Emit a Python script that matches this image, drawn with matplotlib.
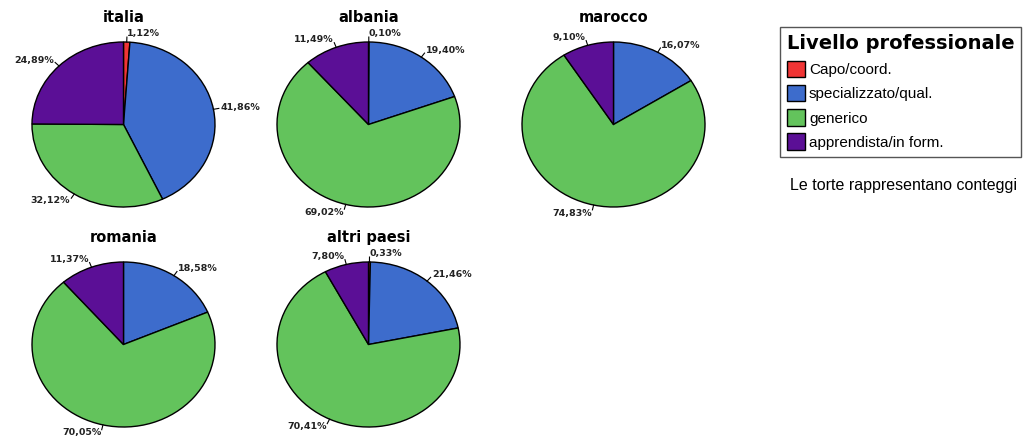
import matplotlib.pyplot as plt
import numpy as np
from matplotlib.patches import Patch

categories = ['Capo/coord.', 'specializzato/qual.', 'generico', 'apprendista/in form.']
colors = ['#f03535', '#3d6ccc', '#63c35c', '#5b0f96']

countries = ['italia', 'albania', 'marocco', 'romania', 'altri paesi']
italia = [1.12, 41.86, 32.12, 24.89]
albania = [0.10, 19.40, 69.02, 11.49]
marocco = [0.0, 16.07, 74.83, 9.10]
romania = [0.0, 18.58, 70.05, 11.37]
altri_paesi = [0.33, 21.46, 70.41, 7.80]
values = [italia, albania, marocco, romania, altri_paesi]

W, H = 1031, 436
fig = plt.figure(figsize=(W / 100, H / 100), dpi=100)

# pie bounding boxes in pixels (left, top); SPSS draws them as ellipses
boxes = [(32, 42), (277, 42), (522, 42), (32, 262), (277, 262)]
pw, ph = 183, 165


def fmt(v):
    return ('%.2f%%' % v).replace('.', ',')


for name, vals, (px, py) in zip(countries, values, boxes):
    ax = fig.add_axes([px / W, (H - py - ph) / H, pw / W, ph / H])
    ax.pie(vals, colors=colors, startangle=90, counterclock=False,
           wedgeprops=dict(edgecolor='black', linewidth=1.0))
    ax.set_aspect('auto')
    ax.set_xlim(-1, 1)
    ax.set_ylim(-1, 1)
    ax.axis('off')

    total = sum(vals)
    start = 90.0
    for v in vals:
        span = 360.0 * v / total
        mid = np.radians(start - span / 2)
        start -= span
        if v == 0:
            continue
        c, s = np.cos(mid), np.sin(mid)
        ax.plot([c, 1.06 * c], [s, 1.06 * s], color='black', lw=0.8, clip_on=False)
        ax.text(1.08 * c, 1.1 * s, fmt(v), ha='left' if c >= -0.05 else 'right',
                va='center', fontsize=6.8, fontweight='bold', color='#222222',
                clip_on=False)

    ax.text(0, 1.3, name, ha='center', va='center', fontsize=10.5,
            fontweight='bold', clip_on=False)

handles = [Patch(facecolor=col, edgecolor='black', label=lab)
           for col, lab in zip(colors, categories)]
leg = fig.legend(handles=handles, title='Livello professionale',
                 loc='upper left', bbox_to_anchor=(780 / W, 1 - 27 / H),
                 prop={'family': 'Liberation Sans', 'size': 11},
                 title_fontproperties={'weight': 'bold', 'size': 14},
                 fancybox=False, edgecolor='#555555', framealpha=1,
                 handlelength=1.2, handleheight=1.3, handletextpad=0.25,
                 labelspacing=0.5, borderpad=0.45, borderaxespad=0)
leg._legend_box.align = 'left'
leg.get_frame().set_linewidth(1.0)

fig.text(790 / W, 1 - 185 / H, 'Le torte rappresentano conteggi',
         ha='left', va='center', fontsize=11.5, family='Liberation Sans')

fig.savefig('out.png', dpi=100)
